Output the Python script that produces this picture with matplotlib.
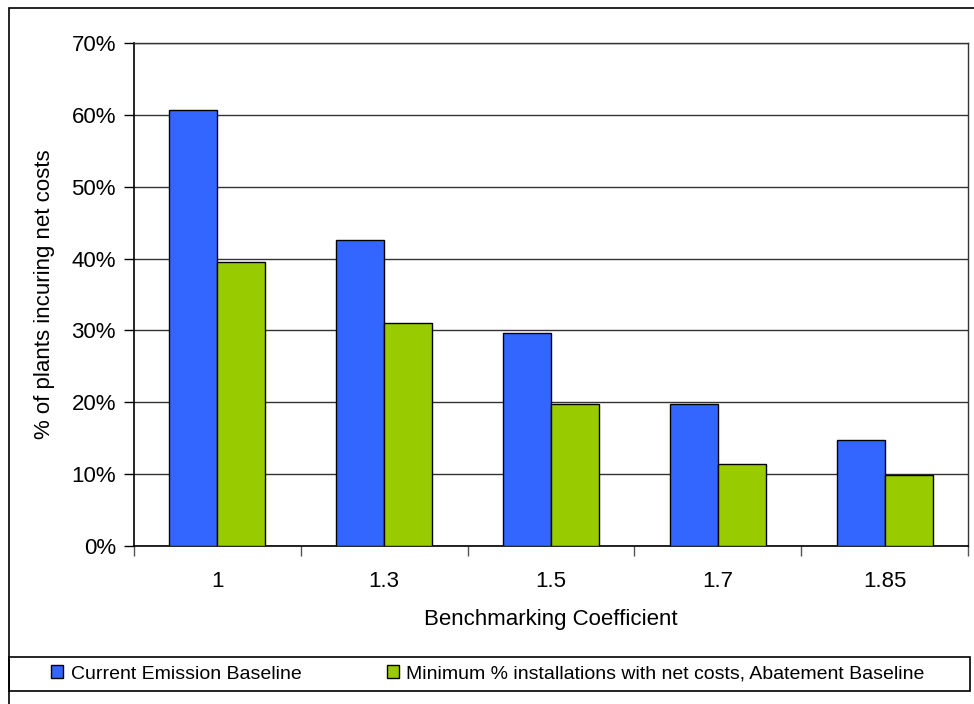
import numpy as np
import matplotlib
matplotlib.use("Agg")
import matplotlib.pyplot as plt
from matplotlib.patches import Rectangle
from matplotlib.ticker import FuncFormatter, FixedLocator, NullFormatter

categories = ["1", "1.3", "1.5", "1.7", "1.85"]
current_baseline = [60.7, 42.6, 29.6, 19.7, 14.8]
abatement_baseline = [39.5, 31.1, 19.7, 11.4, 9.9]
series_names = ["Current Emission Baseline",
                "Minimum % installations with net costs, Abatement Baseline"]

BLUE = "#3366FF"
GREEN = "#99CC00"

plt.rcParams.update({
    "font.family": ["Liberation Sans", "DejaVu Sans"],
    "font.size": 16,
})

fig = plt.figure(figsize=(9.74, 7.04), dpi=100)
ax = fig.add_axes([134 / 974, 1 - 546 / 704, (968 - 134) / 974, (546 - 43) / 704])

x = np.arange(len(categories))
w = 0.288
b1 = ax.bar(x - w / 2, current_baseline, w, color=BLUE, edgecolor="black",
            linewidth=1.0, zorder=3, label=series_names[0])
b2 = ax.bar(x + w / 2, abatement_baseline, w, color=GREEN, edgecolor="black",
            linewidth=1.0, zorder=3, label=series_names[1])

ax.set_xlim(-0.5, len(categories) - 0.5)
ax.set_ylim(0, 70)
ax.set_yticks(np.arange(0, 71, 10))
ax.yaxis.set_major_formatter(FuncFormatter(lambda v, _: f"{v:.0f}%"))
ax.grid(axis="y", color="#333333", lw=1.0, zorder=0)
ax.set_axisbelow(True)

# category ticks sit on the boundaries, labels in the middle
ax.xaxis.set_major_locator(FixedLocator(np.arange(-0.5, len(categories), 1.0)))
ax.xaxis.set_major_formatter(NullFormatter())
ax.xaxis.set_minor_locator(FixedLocator(x))
ax.set_xticklabels(categories, minor=True)
ax.tick_params(axis="x", which="major", direction="out", length=7, width=1, color="#555555")
ax.tick_params(axis="x", which="minor", length=0, pad=18, labelsize=16)
ax.tick_params(axis="y", direction="out", length=7, width=1, labelsize=16, pad=6)

for s in ("left", "bottom"):
    ax.spines[s].set_color("black")
    ax.spines[s].set_linewidth(1.2)
for s in ("top", "right"):
    ax.spines[s].set_color("#333333")
    ax.spines[s].set_linewidth(1.0)

ax.set_xlabel("Benchmarking Coefficient", fontsize=16, labelpad=12)
ax.set_ylabel("% of plants incuring net costs", fontsize=16, labelpad=12)

# outer chart border and legend box
fig.patches.append(Rectangle((9 / 974, -0.02), 1.02, 1 - 8 / 704 + 0.02,
                             transform=fig.transFigure, fill=False,
                             edgecolor="black", lw=1.2, zorder=0))
fig.patches.append(Rectangle((9 / 974, 1 - 691 / 704), (970 - 9) / 974, 34 / 704,
                             transform=fig.transFigure, fill=False,
                             edgecolor="black", lw=1.2, zorder=0))

fig.legend(handles=[b1, b2], loc="center", ncol=2, frameon=False,
           bbox_to_anchor=(488 / 974, 1 - 674 / 704), fontsize=14,
           handlelength=0.6, handleheight=0.6, handletextpad=0.4,
           columnspacing=4.4)

fig.savefig("out.png", dpi=100)
